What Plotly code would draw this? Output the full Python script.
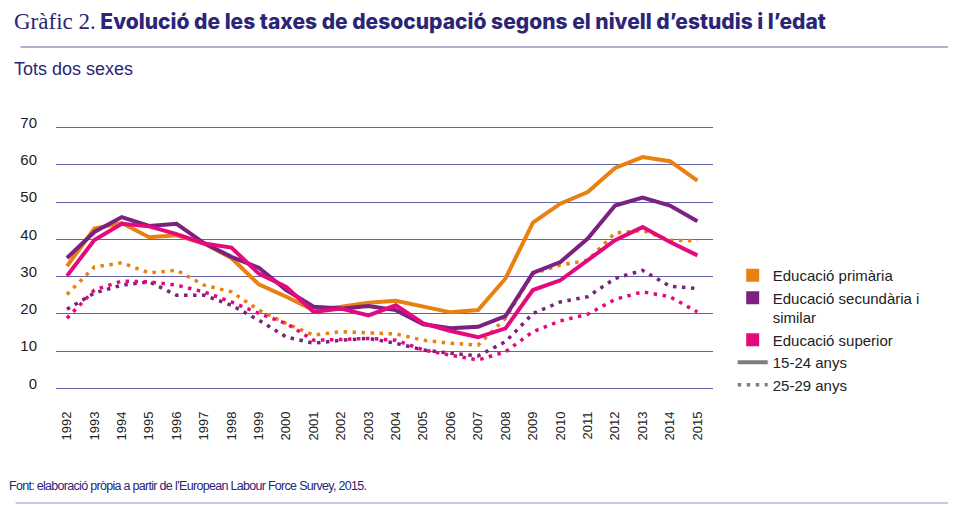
import plotly.graph_objects as go

# Unemployment rates by level of studies and age (%, both sexes)
years = list(range(1992, 2016))

primaria_15_24 = [32.8, 42.9, 44.4, 40.6, 41.1, 38.9, 35.0, 27.9, 24.6, 21.0, 21.9, 23.0,
                  23.5, 21.9, 20.4, 21.0, 29.5, 44.5, 49.6, 52.7, 59.2, 62.1, 61.0, 55.8]
secundaria_15_24 = [35.0, 42.0, 46.0, 43.6, 44.2, 39.0, 35.3, 32.4, 26.4, 21.9, 21.4, 22.1,
                    21.0, 17.2, 16.1, 16.5, 19.4, 31.0, 33.9, 40.2, 49.1, 51.2, 49.1, 44.9]
superior_15_24 = [30.2, 39.8, 44.2, 43.5, 41.4, 38.9, 37.8, 30.8, 27.2, 20.5, 21.4, 19.6,
                  22.3, 17.4, 15.4, 13.7, 16.1, 26.4, 29.0, 34.4, 39.8, 43.3, 39.3, 35.7]

primaria_25_29 = [25.2, 32.6, 33.7, 31.0, 31.7, 27.7, 25.9, 21.0, 17.4, 14.3, 15.2, 14.9,
                  14.6, 12.9, 12.1, 11.6, 18.8, 30.8, 33.1, 34.4, 41.7, 42.4, 39.8, 39.6]
secundaria_25_29 = [21.2, 25.6, 27.7, 28.6, 25.0, 25.0, 22.3, 18.3, 13.8, 12.1, 12.9, 13.4,
                    12.1, 10.3, 9.4, 8.7, 12.5, 20.1, 23.2, 24.6, 29.5, 31.7, 27.4, 26.8]
superior_25_29 = [18.8, 26.4, 28.8, 28.6, 27.7, 25.9, 23.2, 20.1, 17.4, 12.9, 13.1, 13.4,
                  12.9, 10.3, 8.9, 7.6, 9.8, 15.2, 18.1, 19.9, 23.9, 25.9, 24.6, 20.5]

groups = ["Educació primària", "Educació secundària i<br>similar", "Educació superior"]
colors = ["#E8810F", "#7B2180", "#E40A7E"]
navy = "#2B2577"
rule = "#9A96C6"
dot_dash = "3.5px,5.5px"

# the page adds an 8px body margin, so lay out in page pixels and convert
OFF = 8
ML, MT, PW, PH = 38, 116, 667, 268


def px(x):
    return (x - OFF - ML) / PW


def py(y):
    return (MT + PH - (y - OFF)) / PH


fig = go.Figure()

# dotted 25-29 lines first, solid 15-24 on top
for vals, col in zip([primaria_25_29, secundaria_25_29, superior_25_29], colors):
    fig.add_trace(go.Scatter(x=years, y=vals, mode="lines", showlegend=False,
                             line=dict(color=col, width=3.5, dash=dot_dash)))
for vals, col in zip([primaria_15_24, secundaria_15_24, superior_15_24], colors):
    fig.add_trace(go.Scatter(x=years, y=vals, mode="lines", showlegend=False,
                             line=dict(color=col, width=4)))

# legend entries
for i, (name, col) in enumerate(zip(groups, colors)):
    fig.add_trace(go.Scatter(x=[None], y=[None], mode="markers", name=name,
                             legendgroup="g%d" % i,
                             marker=dict(symbol="square", size=13, color=col)))
fig.add_trace(go.Scatter(x=[None], y=[None], mode="lines", name="15-24 anys",
                         legendgroup="a1", line=dict(color="#7d7d7d", width=4)))
fig.add_trace(go.Scatter(x=[None], y=[None], mode="lines", name="25-29 anys",
                         legendgroup="a2", line=dict(color="#7d7d7d", width=3.5, dash=dot_dash)))

# title block
fig.add_annotation(xref="paper", yref="paper", x=px(1), y=py(22), xanchor="left", yanchor="middle",
                   showarrow=False,
                   text="<span style='font-family:\"Liberation Serif\",serif;font-size:23px;font-weight:400'>Gràfic 2.</span>"
                        " Evolució de les taxes de desocupació segons el nivell d’estudis i l’edat",
                   font=dict(family="Inter, Liberation Sans, sans-serif", size=21, color=navy, weight=800))
fig.add_annotation(xref="paper", yref="paper", x=px(1), y=py(69), xanchor="left", yanchor="middle",
                   showarrow=False, text="Tots dos sexes",
                   font=dict(family="Liberation Sans, Arial, sans-serif", size=18, color=navy))
fig.add_annotation(xref="paper", yref="paper", x=px(-4), y=py(486), xanchor="left", yanchor="middle",
                   showarrow=False,
                   text="<span style='letter-spacing:-0.7px'>Font: elaboració pròpia a partir de "
                        "l’European Labour Force Survey, 2015.</span>",
                   font=dict(family="Liberation Sans, Arial, sans-serif", size=12.5, color=navy))

# rules
fig.update_layout(shapes=[
    dict(type="line", xref="paper", yref="paper", x0=px(10), x1=px(970), y0=py(47), y1=py(47),
         line=dict(color=rule, width=1.5)),
    dict(type="line", xref="paper", yref="paper", x0=px(5), x1=px(970), y0=py(503), y1=py(503),
         line=dict(color="#C9C7E3", width=2)),
])

fig.update_layout(
    width=956 - OFF, height=505 - OFF,
    margin=dict(l=ML, r=956 - OFF - ML - PW, t=MT, b=505 - OFF - MT - PH),
    paper_bgcolor="white", plot_bgcolor="white",
    font=dict(family="Liberation Sans, Arial, sans-serif", color="#222222"),
    legend=dict(x=px(733), y=py(259), xanchor="left", yanchor="top", valign="top",
                font=dict(size=15, color="#222222"), itemwidth=30,
                tracegroupgap=0, bgcolor="rgba(0,0,0,0)"),
    xaxis=dict(range=[1991.6, 2015.57], tickmode="array", tickvals=years,
               ticktext=[str(y) for y in years], tickangle=-90,
               showgrid=False, zeroline=False, showline=False,
               tickfont=dict(size=13, color="#222222"), ticklabelstandoff=16),
    yaxis=dict(range=[-1, 71], tickvals=[0, 10, 20, 30, 40, 50, 60, 70],
               showgrid=True, gridcolor="#6464A8", gridwidth=1.3, zeroline=False,
               showline=False, tickfont=dict(size=15, color="#222222"),
               ticklabelstandoff=18, ticklabelshift=-5),
)

fig.write_html("out.html")
